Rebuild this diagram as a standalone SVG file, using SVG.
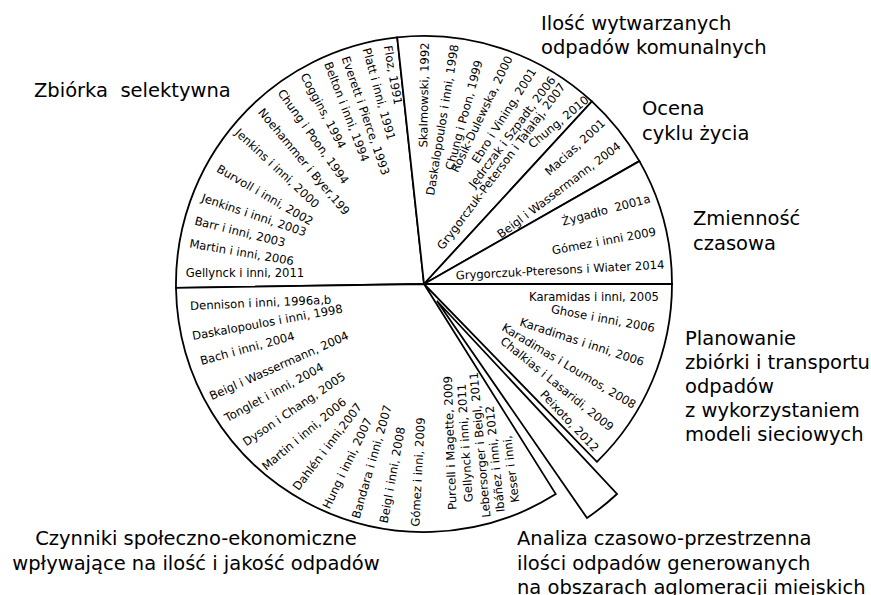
<svg xmlns="http://www.w3.org/2000/svg" width="871" height="595" viewBox="0 0 871 595">
<style>
.s{fill:#fff;stroke:#000;stroke-width:1.8;stroke-linejoin:miter}
.t{font-family:"DejaVu Sans","Liberation Sans",sans-serif;font-size:11.6px;fill:#000}
.h{font-family:"DejaVu Sans","Liberation Sans",sans-serif;font-size:19.5px;fill:#000}
</style>
<rect width="871" height="595" fill="#fff"/>
<g id="connectors">
<path id="secA" class="s" d="M424,284 L397.2,37.4 A248,248 0 0 0 176,287.9 Z"/>
<path id="secB" class="s" d="M424,284 L591.9,101.4 A248,248 0 0 0 397.2,37.4 Z"/>
<path id="secC" class="s" d="M424,284 L639.4,161.1 A248,248 0 0 0 591.9,101.4 Z"/>
<path id="secD" class="s" d="M424,284 L672,284 A248,248 0 0 0 639.4,161.1 Z"/>
<path id="secE" class="s" d="M424,284 L596.9,461.8 A248,248 0 0 0 672,284 Z"/>
<path id="secG" class="s" d="M424,284 L176,287.9 A248,248 0 0 0 555.8,494.1 Z"/>
<path id="secF" class="s" d="M437,301 L587,518 A262,262 0 0 0 617,494 Z"/>
</g>
<g id="zbiorka">
<text class="h" x="34" y="97" xml:space="preserve">Zbiórka  selektywna</text>
<text class="t" text-anchor="middle" dy="0.35em" transform="translate(393,75) rotate(80)">Floz, 1991</text>
<text class="t" text-anchor="middle" dy="0.35em" transform="translate(379,94) rotate(74.7)">Platt i inni, 1991</text>
<text class="t" text-anchor="middle" dy="0.35em" transform="translate(365.7,115.7) rotate(71)">Everett i Pierce, 1993</text>
<text class="t" text-anchor="middle" dy="0.35em" transform="translate(346.7,111.7) rotate(69)">Belton i inni, 1994</text>
<text class="t" text-anchor="middle" dy="0.35em" transform="translate(323.3,110.7) rotate(62)">Coggins, 1994</text>
<text class="t" text-anchor="middle" dy="0.35em" transform="translate(313.3,136.7) rotate(54.5)">Chung i Poon, 1994</text>
<text class="t" text-anchor="middle" dy="0.35em" transform="translate(304,161.7) rotate(50)">Noehammer i Byer,199</text>
<text class="t" text-anchor="middle" dy="0.35em" transform="translate(277.3,168.3) rotate(43)">Jenkins i inni, 2000</text>
<text class="t" text-anchor="middle" dy="0.35em" transform="translate(265,195) rotate(30)">Burvoll i inni, 2002</text>
<text class="t" text-anchor="middle" dy="0.35em" transform="translate(254,215) rotate(18.7)">Jenkins i inni, 2003</text>
<text class="t" text-anchor="middle" dy="0.35em" transform="translate(240,231.7) rotate(14)">Barr i inni, 2003</text>
<text class="t" text-anchor="middle" dy="0.35em" transform="translate(241.7,252.3) rotate(9.75)">Martin i inni, 2006</text>
<text class="t" text-anchor="middle" dy="0.35em" transform="translate(245,273.3) rotate(0)">Gellynck i inni, 2011</text>
</g>
<g id="ilosc">
<text class="h" x="541" y="30">Ilość wytwarzanych</text>
<text class="h" x="541" y="54">odpadów komunalnych</text>
<text class="t" text-anchor="middle" dy="0.35em" transform="translate(424,95) rotate(-89)">Skalmowski, 1992</text>
<text class="t" text-anchor="middle" dy="0.35em" transform="translate(442.3,120) rotate(-80.7)">Daskalopoulos i inni, 1998</text>
<text class="t" text-anchor="middle" dy="0.35em" transform="translate(464,115) rotate(-74.8)">Chung i Poon, 1999</text>
<text class="t" text-anchor="middle" dy="0.35em" transform="translate(481.7,114) rotate(-64.4)">Rosik-Dulewska, 2000</text>
<text class="t" text-anchor="middle" dy="0.35em" transform="translate(504,115.5) rotate(-57.7)">Ebro i Vining, 2001</text>
<text class="t" text-anchor="middle" dy="0.35em" transform="translate(512,132) rotate(-53.1)">Jędrczak i Szpadt, 2006</text>
<text class="t" text-anchor="middle" dy="0.35em" transform="translate(501.2,166.2) rotate(-53)">Grygorczuk-Peterson i Tałałaj, 2007</text>
<text class="t" text-anchor="middle" dy="0.35em" transform="translate(558.5,122) rotate(-40)">Chung, 2010</text>
</g>
<g id="ocena">
<text class="h" x="642" y="115">Ocena</text>
<text class="h" x="642" y="140">cyklu życia</text>
<text class="t" text-anchor="middle" dy="0.35em" transform="translate(575,147.3) rotate(-42.5)">Macias, 2001</text>
<text class="t" text-anchor="middle" dy="0.35em" transform="translate(559,190) rotate(-37)">Beigl i Wassermann, 2004</text>
</g>
<g id="zmiennosc">
<text class="h" x="693" y="225">Zmienność</text>
<text class="h" x="693" y="250">czasowa</text>
<text class="t" text-anchor="middle" dy="0.35em" transform="translate(606,210) rotate(-15)" xml:space="preserve">Żygadło  2001a</text>
<text class="t" text-anchor="middle" dy="0.35em" transform="translate(604,241) rotate(-10.5)">Gómez i inni 2009</text>
<text class="t" text-anchor="middle" dy="0.35em" transform="translate(560,270) rotate(-3)">Grygorczuk-Pteresons i Wiater 2014</text>
</g>
<g id="planowanie">
<text class="h" x="685" y="345">Planowanie</text>
<text class="h" x="685" y="369">zbiórki i transportu</text>
<text class="h" x="685" y="393">odpadów</text>
<text class="h" x="685" y="417">z wykorzystaniem</text>
<text class="h" x="685" y="441">modeli sieciowych</text>
<text class="t" text-anchor="middle" dy="0.35em" transform="translate(594,297) rotate(0)">Karamidas i inni, 2005</text>
<text class="t" text-anchor="middle" dy="0.35em" transform="translate(603,318.5) rotate(10.6)">Ghose i inni, 2006</text>
<text class="t" text-anchor="middle" dy="0.35em" transform="translate(582,342) rotate(18.2)">Karadimas i inni, 2006</text>
<text class="t" text-anchor="middle" dy="0.35em" transform="translate(569,366) rotate(31)">Karadimas i Loumos, 2008</text>
<text class="t" text-anchor="middle" dy="0.35em" transform="translate(557,384) rotate(39)">Chalkias i Lasaridi, 2009</text>
<text class="t" text-anchor="middle" dy="0.35em" transform="translate(569.5,421) rotate(46.6)">Peixoto, 2012</text>
</g>
<g id="czynniki">
<text class="h" x="196" y="545" text-anchor="middle">Czynniki społeczno-ekonomiczne</text>
<text class="h" x="196" y="570" text-anchor="middle">wpływające na ilość i jakość odpadów</text>
<text class="t" text-anchor="middle" dy="0.35em" transform="translate(260.7,302.7) rotate(-2.6)">Dennison i inni, 1996a,b</text>
<text class="t" text-anchor="middle" dy="0.35em" transform="translate(267.3,322.3) rotate(-10.4)">Daskalopoulos i inni, 1998</text>
<text class="t" text-anchor="middle" dy="0.35em" transform="translate(247.3,348.3) rotate(-15.2)">Bach i inni, 2004</text>
<text class="t" text-anchor="middle" dy="0.35em" transform="translate(279,365.7) rotate(-24.1)">Beigl i Wassermann, 2004</text>
<text class="t" text-anchor="middle" dy="0.35em" transform="translate(274,392.3) rotate(-28.4)">Tonglet i inni, 2004</text>
<text class="t" text-anchor="middle" dy="0.35em" transform="translate(294,409) rotate(-34.3)">Dyson i Chang, 2005</text>
<text class="t" text-anchor="middle" dy="0.35em" transform="translate(304,434) rotate(-40)">Martin i inni, 2006</text>
<text class="t" text-anchor="middle" dy="0.35em" transform="translate(327.3,446.7) rotate(-52.8)">Dahlén i inni,2007</text>
<text class="t" text-anchor="middle" dy="0.35em" transform="translate(347.3,463.3) rotate(-64.3)">Hung i inni, 2007</text>
<text class="t" text-anchor="middle" dy="0.35em" transform="translate(371.7,461.7) rotate(-74)">Bandara i inni, 2007</text>
<text class="t" text-anchor="middle" dy="0.35em" transform="translate(392.3,475) rotate(-79.6)">Beigl i inni, 2008</text>
<text class="t" text-anchor="middle" dy="0.35em" transform="translate(418,472) rotate(-87)">Gómez i inni, 2009</text>
<text class="t" text-anchor="middle" dy="0.35em" transform="translate(450,443) rotate(-92)">Purcell i Magette, 2009</text>
<text class="t" text-anchor="middle" dy="0.35em" transform="translate(465,443) rotate(-93.5)">Gellynck i inni, 2011</text>
<text class="t" text-anchor="middle" dy="0.35em" transform="translate(480,445) rotate(-95)">Lebersorger i Beigl, 2011</text>
<text class="t" text-anchor="middle" dy="0.35em" transform="translate(495,459) rotate(-96)">Ibáñez i inni, 2012</text>
<text class="t" text-anchor="middle" dy="0.35em" transform="translate(511,469) rotate(-97)">Keser i inni,</text>
</g>
<g id="analiza">
<text class="h" x="517" y="545">Analiza czasowo-przestrzenna</text>
<text class="h" x="517" y="570">ilości odpadów generowanych</text>
<text class="h" x="517" y="594">na obszarach aglomeracji miejskich</text>
</g>
</svg>
